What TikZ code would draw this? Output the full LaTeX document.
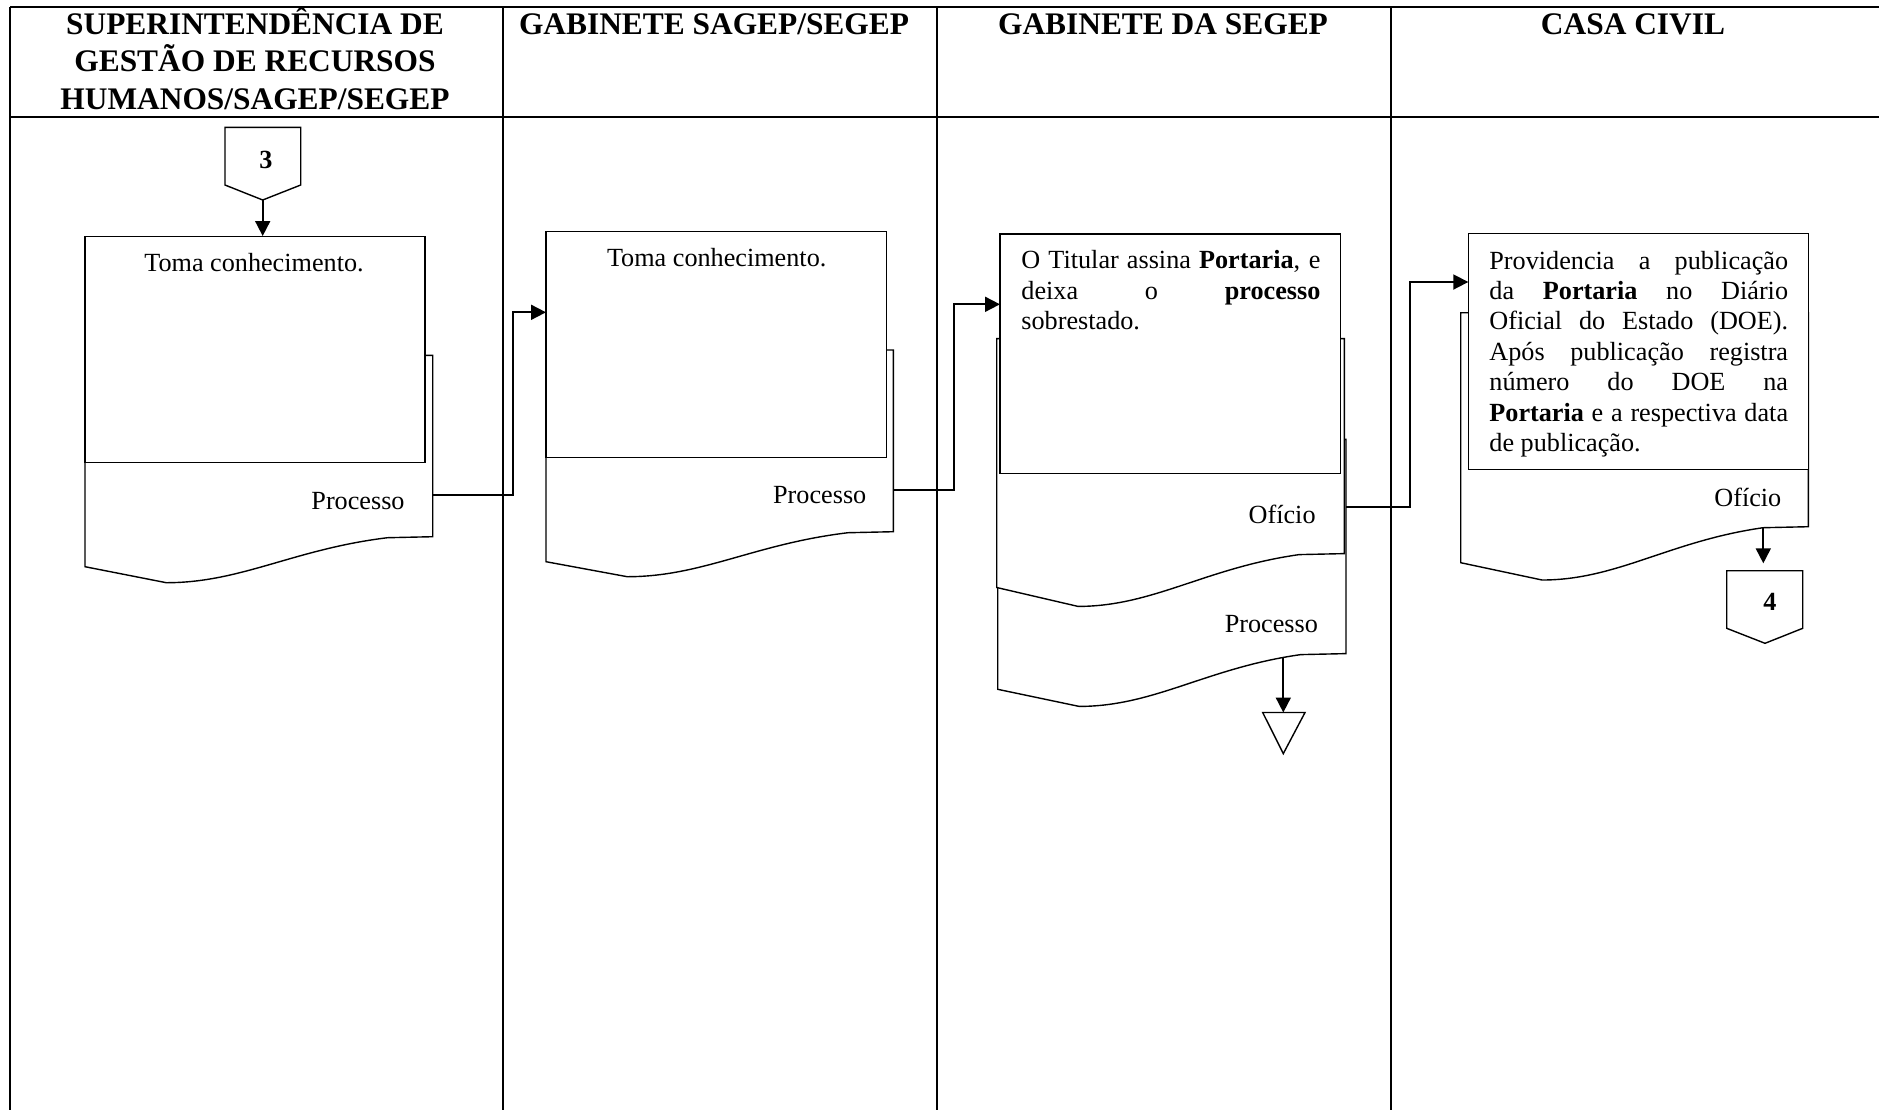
\documentclass[tikz,border=0pt]{standalone}
\usepackage{fontspec}
\setmainfont{Liberation Serif}
\usetikzlibrary{arrows.meta,fit}

\tikzset{
  tbl/.style={line width=1pt},
  docline/.style={draw, line width=0.7pt, fill=white},
  box/.style={draw, line width=0.7pt, fill=white, inner sep=0pt},
  conn/.style={line width=0.9pt},
  arr/.style={line width=0.9pt, -{Triangle[length=7.5pt,width=7.5pt]}},
  body/.style={inner sep=0pt, font=\fontsize{13.1}{15.2}\selectfont},
  hdr/.style={inner sep=0pt, font=\fontsize{15.7}{18.75}\selectfont\bfseries},
}

% #1 name, #2 x0, #3 x1, #4 ytop, #5 yR (right bottom), #6 yL (left bottom), #7 ymin (lowest)
\newcommand{\DocShape}[7]{%
  \pgfmathsetmacro\dA{#2+0.234*(#3-#2)}%
  \pgfmathsetmacro\dB{#2+0.45*(#3-#2)}%
  \pgfmathsetmacro\dC{#2+0.6*(#3-#2)}%
  \pgfmathsetmacro\dD{#2+0.87*(#3-#2)}%
  \pgfmathsetmacro\dE{#5+0.27*(#7-#5)}%
  \path[docline] (#2,#4) -- (#3,#4) -- (#3,#5) -- (\dD,#5+1)
     .. controls (\dC,\dE) and (\dB,#7) .. (\dA,#7) -- (#2,#6) -- cycle;
  \coordinate (#1) at (#3,#5);
}

\begin{document}
\begin{tikzpicture}[x=0.5pt,y=-0.5pt]
\useasboundingbox (0,0) rectangle (1879,1110);

% ---- table ----
\draw[tbl] (10,7) -- (1879,7);
\draw[tbl] (10,117) -- (1879,117);
\draw[tbl] (10,7) -- (10,1110);
\draw[tbl] (503,7) -- (503,1110);
\draw[tbl] (937,7) -- (937,1110);
\draw[tbl] (1391,7) -- (1391,1110);

% ---- headers ----
\node[hdr, anchor=base] (h1) at (255,34) {\parbox[t]{240pt}{\centering SUPERINTENDÊNCIA DE\\GESTÃO DE RECURSOS\\HUMANOS/SAGEP/SEGEP}};
\node[hdr, anchor=base] (h2) at (714,34) {GABINETE SAGEP/SEGEP};
\node[hdr, anchor=base] (h3) at (1163,34) {GABINETE DA SEGEP};
\node[hdr, anchor=base] (h4) at (1633,34) {CASA CIVIL};

% ---- off-page connector 3 ----
\path[docline] (225,127.3) -- (300.7,127.3) -- (300.7,185) -- (262.7,200) -- (225,185) -- cycle;
\coordinate (c3tip) at (262.7,200);
\node[body, font=\fontsize{13.1}{15.2}\selectfont\bfseries, anchor=base] (n3) at (266,168.3) {3};

% ---- documents ----
\DocShape{d1}{85}{432.7}{355.3}{536.7}{566.7}{582.7}
\DocShape{d2}{546}{893.3}{350}{531.7}{561.7}{576.7}
\DocShape{d3b}{997.7}{1346}{439.3}{653.6}{689.3}{706.4}
\DocShape{d3a}{996.7}{1344.3}{338.6}{553.6}{587.5}{606.4}
\DocShape{d4}{1460.7}{1808.3}{312.7}{526.7}{562.7}{580}

% ---- process boxes ----
\node[box, fit={(85,236.7) (425,462.7)}] (b1) {};
\node[box, fit={(546,231.7) (886.7,457.7)}] (b2) {};
\node[box, fit={(1000,233.9) (1340.7,473.2)}] (b3) {};
\node[box, fit={(1468.3,233.3) (1808.3,469.3)}] (b4) {};

% ---- texts ----
\node[body, anchor=base] (t1) at (254,271.7) {Toma conhecimento.};
\node[body, anchor=base] (t2) at (716.7,266.7) {Toma conhecimento.};
\node[body, anchor=base west] (t3) at (1021,268.6) {\parbox[t]{149.5pt}{\tolerance=10000\hyphenpenalty=10000
O Titular assina \textbf{Portaria}, e\linebreak deixa o \textbf{processo}\linebreak sobrestado.}};
\node[body, anchor=base west] (t4) at (1489,269) {\parbox[t]{149.35pt}{\tolerance=10000\hyphenpenalty=10000
Providencia a publicação\linebreak da \textbf{Portaria} no Diário\linebreak Oficial do Estado (DOE).\linebreak Após publicação registra\linebreak número do DOE na\linebreak \textbf{Portaria} e a respectiva data\linebreak de publicação.}};

\node[body, anchor=base east] (p1) at (405,509.3) {Processo};
\node[body, anchor=base east] (p2) at (866.7,503.3) {Processo};
\node[body, anchor=base east] (o3) at (1316,523.2) {Ofício};
\node[body, anchor=base east] (p3) at (1318.3,632.1) {Processo};
\node[body, anchor=base east] (o4) at (1781.7,506.7) {Ofício};

% ---- merge triangle (archive) ----
\path[docline] (1262.7,712.5) -- (1305,712.5) -- (1283.3,753.6) -- cycle;
\coordinate (tri) at (1283.3,712.5);

% ---- off-page connector 4 ----
\path[docline] (1726.7,570.7) -- (1802.7,570.7) -- (1802.7,628.3) -- (1765,643.3) -- (1726.7,628.3) -- cycle;
\coordinate (c4top) at (1763.3,563.3);
\node[body, font=\fontsize{13.1}{15.2}\selectfont\bfseries, anchor=base] (n4) at (1770,610) {4};

% ---- connector anchor points ----
\coordinate (d1out) at (432.7,495);
\coordinate (b2in) at (546,312.3);
\coordinate (d2out) at (893.3,490);
\coordinate (b3in) at (1000,304.3);
\coordinate (d3out) at (1346,507.1);
\coordinate (b4in) at (1468.3,282);
\coordinate (d3bout) at (1283.3,657);
\coordinate (d4out) at (1763.3,527.7);

% ---- connectors ----
\draw[arr] (c3tip) -- (c3tip |- b1.north);
\draw[arr] (d1out) -- ++(80,0) |- (b2in);
\draw[arr] (d2out) -- ++(60.3,0) |- (b3in);
\draw[arr] (d3out) -- ++(64,0) |- (b4in);
\draw[arr] (d3bout) -- (tri);
\draw[arr] (d4out) -- (c4top);

\end{tikzpicture}
\end{document}
